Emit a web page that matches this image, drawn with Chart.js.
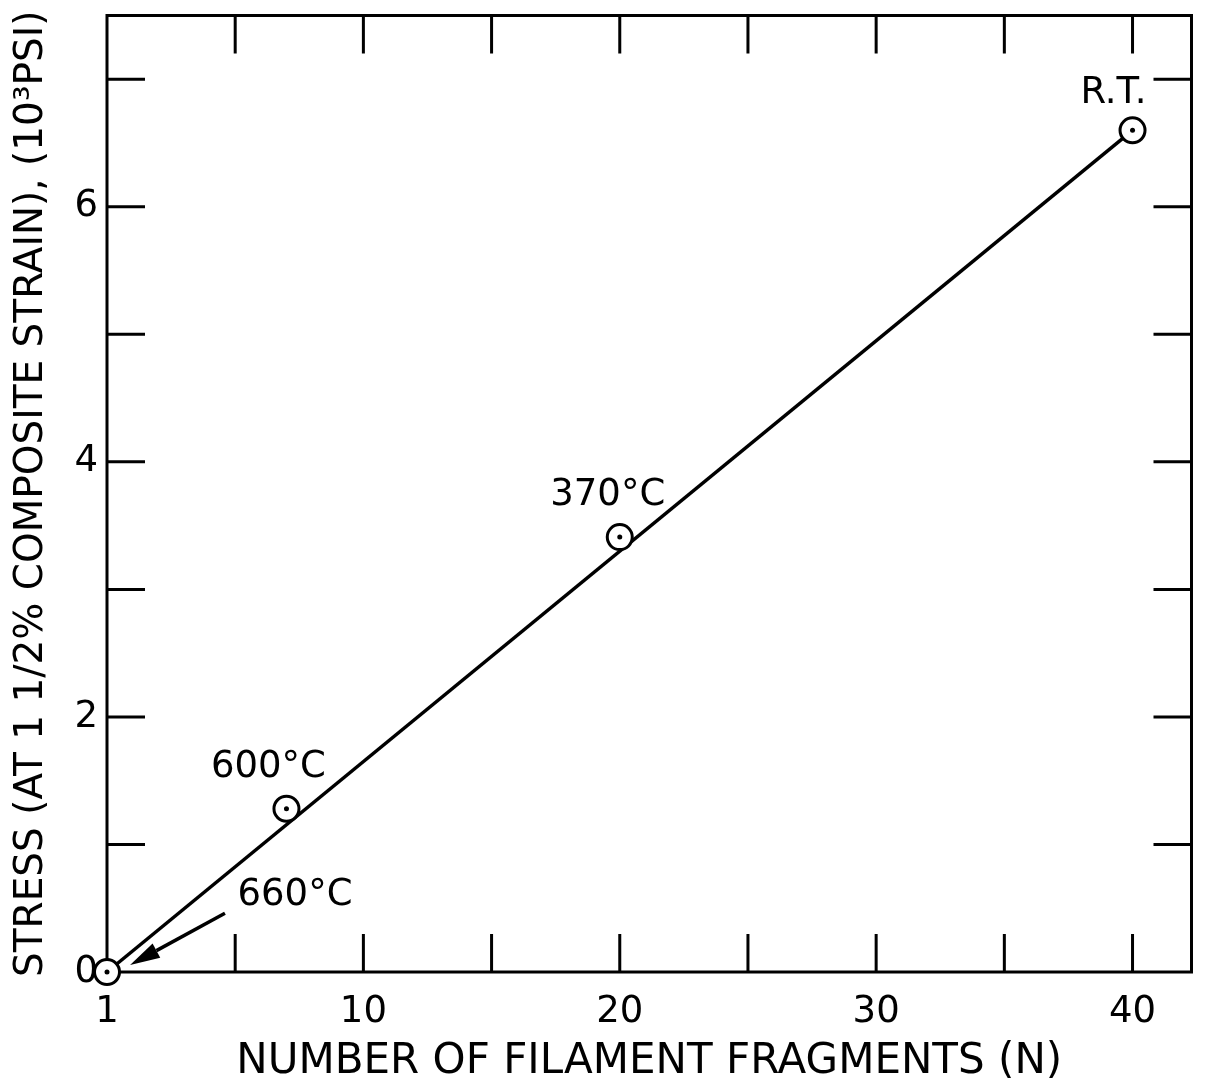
<!DOCTYPE html>
<html>
<head>
<meta charset="utf-8">
<script src="https://cdn.jsdelivr.net/npm/chart.js"></script>
<style>
  html, body { margin: 0; padding: 0; background: #fff; }
  #wrap { width: 1207px; height: 1091px; }
</style>
</head>
<body>
<div id="wrap"><canvas id="chart" width="1207" height="1091"></canvas></div>
<script>
// values
const tempLabels = ['660°C', '600°C', '370°C', 'R.T.'];
const fragments = [0, 7, 20, 40];        // N (the 660°C point sits on the origin)
const stress = [0, 1.28, 3.41, 6.6];     // 10^3 psi

// straight line drawn through the origin
const fitX = [0, 40];
const fitY = [0, 6.6];

const xTicks = [0, 5, 10, 15, 20, 25, 30, 35, 40];
const xTickLabels = ['1', '', '10', '', '20', '', '30', '', '40'];
const yTicks = [0, 1, 2, 3, 4, 5, 6, 7];
const yTickLabels = ['0', '', '2', '', '4', '', '6', ''];

// arrow pointing at the 660°C point
const arrowFrom = [4.6, 0.46];
const arrowTo = [0.9, 0.055];

const FONT = "'DejaVu Sans', sans-serif";
Chart.defaults.color = '#000';
Chart.defaults.font.family = FONT;

// label offsets from each point, px
const labelOffsets = [[188, -77], [-18, -41], [-12, -42], [-19, -37]];

const framePlugin = {
  id: 'frame',
  beforeDatasetsDraw(chart) {
    const { ctx, chartArea: a, scales: { x, y } } = chart;
    const tl = 38;
    ctx.save();
    ctx.strokeStyle = '#000';
    ctx.lineWidth = 3;
    ctx.strokeRect(a.left, a.top, a.right - a.left, a.bottom - a.top);
    ctx.beginPath();
    xTicks.forEach(v => {
      if (v === 0) return;
      const px = x.getPixelForValue(v);
      ctx.moveTo(px, a.bottom); ctx.lineTo(px, a.bottom - tl);
      ctx.moveTo(px, a.top); ctx.lineTo(px, a.top + tl);
    });
    yTicks.forEach(v => {
      if (v === 0) return;
      const py = y.getPixelForValue(v);
      ctx.moveTo(a.left, py); ctx.lineTo(a.left + tl, py);
      ctx.moveTo(a.right, py); ctx.lineTo(a.right - tl, py);
    });
    ctx.stroke();
    ctx.restore();
  }
};

const notesPlugin = {
  id: 'notes',
  afterDatasetsDraw(chart) {
    const { ctx, scales: { x, y } } = chart;
    ctx.save();
    ctx.fillStyle = '#000';
    ctx.strokeStyle = '#000';
    ctx.font = '37px ' + FONT;
    ctx.textAlign = 'center';
    ctx.textBaseline = 'middle';
    tempLabels.forEach((t, i) => {
      const px = x.getPixelForValue(fragments[i]) + labelOffsets[i][0];
      const py = y.getPixelForValue(stress[i]) + labelOffsets[i][1];
      ctx.fillText(t, px, py);
    });

    // arrow
    const x0 = x.getPixelForValue(arrowFrom[0]), y0 = y.getPixelForValue(arrowFrom[1]);
    const x1 = x.getPixelForValue(arrowTo[0]), y1 = y.getPixelForValue(arrowTo[1]);
    const ang = Math.atan2(y1 - y0, x1 - x0);
    const hl = 30, hw = 8;
    const bx = x1 - hl * Math.cos(ang), by = y1 - hl * Math.sin(ang);
    ctx.lineWidth = 3.5;
    ctx.beginPath();
    ctx.moveTo(x0, y0);
    ctx.lineTo(bx, by);
    ctx.stroke();
    ctx.beginPath();
    ctx.moveTo(x1, y1);
    ctx.lineTo(bx + hw * Math.sin(ang), by - hw * Math.cos(ang));
    ctx.lineTo(bx - hw * Math.sin(ang), by + hw * Math.cos(ang));
    ctx.closePath();
    ctx.fill();
    ctx.restore();
  }
};

const pts = fragments.map((v, i) => ({ x: v, y: stress[i] }));

new Chart(document.getElementById('chart'), {
  type: 'scatter',
  data: {
    datasets: [
      {
        label: 'dots',
        data: pts,
        pointRadius: 2.5,
        pointBackgroundColor: '#000',
        pointBorderWidth: 0,
        order: 1,
        clip: false
      },
      {
        label: 'points',
        data: pts,
        pointRadius: 12.5,
        pointBackgroundColor: '#fff',
        pointBorderColor: '#000',
        pointBorderWidth: 3,
        order: 2,
        clip: false
      },
      {
        label: 'line',
        data: fitX.map((v, i) => ({ x: v, y: fitY[i] })),
        showLine: true,
        borderColor: '#000',
        borderWidth: 3.5,
        pointRadius: 0,
        order: 3,
        clip: false
      }
    ]
  },
  options: {
    responsive: false,
    animation: false,
    devicePixelRatio: 1,
    layout: { padding: { top: 12, right: 7, left: 0, bottom: 0 } },
    plugins: {
      legend: { display: false },
      tooltip: { enabled: false }
    },
    scales: {
      x: {
        type: 'linear',
        min: 0,
        max: 42.3,
        afterBuildTicks: s => { s.ticks = xTicks.map(v => ({ value: v })); },
        afterFit: s => { s.height = 119; s.paddingLeft = 0; s.paddingRight = 0; },
        grid: { display: false, drawTicks: false, tickLength: 0 },
        border: { display: false },
        ticks: {
          autoSkip: false,
          maxRotation: 0,
          padding: 18,
          font: { size: 37 },
          callback: (v, i) => xTickLabels[i]
        },
        title: {
          display: true,
          text: 'NUMBER OF FILAMENT FRAGMENTS (N)',
          font: { size: 42 },
          padding: { top: 0, bottom: 4 }
        }
      },
      y: {
        type: 'linear',
        min: 0,
        max: 7.5,
        afterBuildTicks: s => { s.ticks = yTicks.map(v => ({ value: v })); },
        afterFit: s => { s.width = 107; s.paddingTop = 0; s.paddingBottom = 0; },
        grid: { display: false, drawTicks: false, tickLength: 0 },
        border: { display: false },
        ticks: {
          autoSkip: false,
          padding: 9,
          font: { size: 37 },
          callback: (v, i) => yTickLabels[i]
        },
        title: {
          display: true,
          text: 'STRESS (AT 1 1/2% COMPOSITE STRAIN), (10³PSI)',
          font: { size: 39 },
          padding: { top: 8, bottom: 0 }
        }
      }
    }
  },
  plugins: [framePlugin, notesPlugin]
});
</script>
</body>
</html>
